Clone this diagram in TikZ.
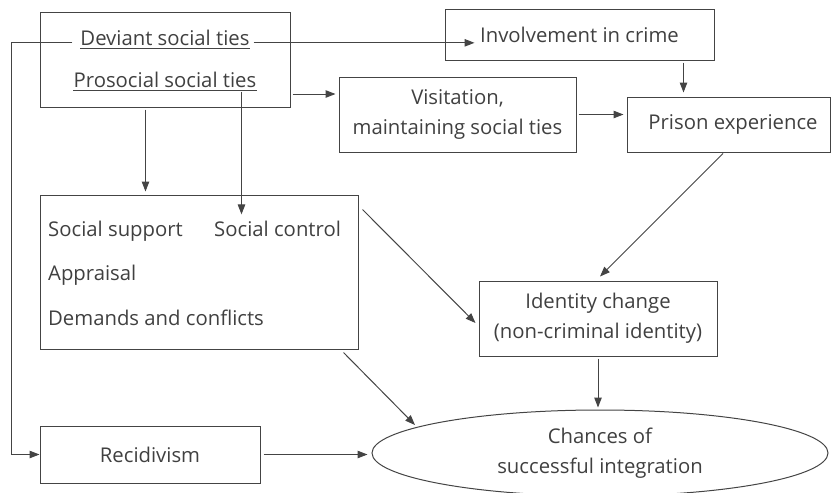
\documentclass[tikz,border=0pt]{standalone}
\usepackage{fontspec}
\setmainfont{Open Sans}
\usetikzlibrary{arrows.meta,shapes.geometric,calc}
\definecolor{lc}{HTML}{444444}
\definecolor{tc}{HTML}{404040}
\begin{document}
\begin{tikzpicture}[x=1pt,y=-1pt,
  every node/.style={font=\fontsize{20.3}{30}\selectfont, text=tc},
  box/.style={draw=lc, line width=1pt, rectangle, inner sep=0pt, align=center},
  txt/.style={inner sep=0pt},
  arr/.style={draw=lc, line width=1pt, -{Triangle[length=10pt,width=7.5pt]}},
  ln/.style={draw=lc, line width=1pt}]
\useasboundingbox (0,0) rectangle (831,493);
% boxes
\node[box, minimum width=250pt, minimum height=95pt] (boxA) at (165,59.5) {};
\node[box, minimum width=269pt, minimum height=51pt] (inv) at (579.5,34.5) {Involvement in crime};
\node[box, minimum width=237pt, minimum height=75pt] (vis) at (457.5,114.5) {Visitation,\\maintaining social ties};
\node[box, minimum width=203pt, minimum height=55pt] (prison) at (728.5,124.5) {\hspace*{9pt}Prison experience};
\node[box, minimum width=318pt, minimum height=154pt] (boxB) at (199,272) {};
\node[box, minimum width=238pt, minimum height=75pt] (ident) at (598,318.5) {Identity change\\(non-criminal identity)};
\node[box, ellipse, minimum width=456pt, minimum height=86pt] (ell) at (600,453) {Chances of\\successful integration};
\node[box, minimum width=220pt, minimum height=57pt] (recid) at (150,454.5) {Recidivism};
% texts
\node[txt, anchor=base] (dev) at (165,45.5) {Deviant social ties};
\node[txt, anchor=base] (pro) at (165,87.5) {Prosocial social ties};
\node[txt, anchor=base west] (ss) at (48,236) {Social support};
\node[txt, anchor=base west] (sc) at (214,236) {Social control};
\node[txt, anchor=base west] (ap) at (48,280) {Appraisal};
\node[txt, anchor=base west] (dc) at (48,325) {Demands and conflicts};
% underlines
\draw[ln] ([yshift=-2.5pt]dev.base west) -- ([yshift=-2.5pt]dev.base east);
\draw[ln] ([yshift=-2.5pt]pro.base west) -- ([yshift=-2.5pt]pro.base east);
% coordinates
\coordinate (lft) at (11,41);
\coordinate (invin) at ($(inv.west)+(30,0)$);
\coordinate (a1) at ($(boxA.east)+(2,34.5)$);
\coordinate (a2) at ($(inv.south west)+(239,2)$);
\coordinate (a3) at ($(boxA.south west)+(106,2)$);
\coordinate (a4) at ($(boxA.south west)+(202,-16)$);
% connectors
\draw[arr] ([xshift=-8pt]dev.mid west) -- (lft |- dev.mid west) |- (recid.west);
\draw[arr] ([xshift=4pt]dev.mid east) -- (dev.mid east -| invin);
\draw[arr, shorten >=3pt] (a1) -- (a1 -| vis.west);
\draw[arr, shorten <=2pt, shorten >=3pt] (vis.east) -- (vis.east -| prison.west);
\draw[arr, shorten >=4pt] (a2) -- (a2 |- prison.north);
\draw[arr, shorten >=3pt] (a3) -- (a3 |- boxB.north);
\draw[arr, shorten >=6pt] (a4) -- (a4 |- sc.north);
\draw[arr] ($(boxB.north east)+(4,15)$) -- ($(ident.west)+(-3,4.5)$);
\draw[arr] ($(boxB.south east)+(-15,3)$) -- ($(ell.center)+(-185,-28)$);
\draw[arr] ($(prison.south)+(-5.5,1)$) -- ($(ident.north)+(2,-4)$);
\draw[arr, shorten <=2pt, shorten >=2pt] (ident.south) -- (ident.south |- ell.north);
\draw[arr, shorten <=3pt, shorten >=4pt] (recid.east) -- (recid.east -| ell.west);
\end{tikzpicture}
\end{document}
